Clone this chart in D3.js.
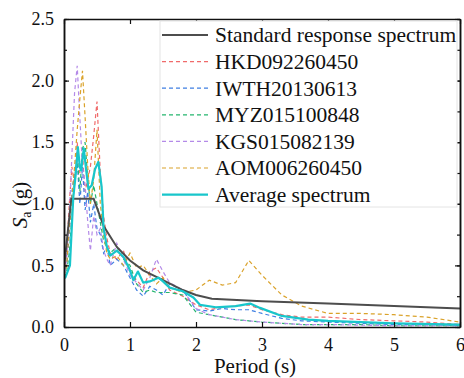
<!DOCTYPE html>
<html>
<head>
<meta charset="utf-8">
<script src="https://cdn.jsdelivr.net/npm/d3@7"></script>
<style>
  body { margin: 0; background: #fff; }
  svg { display: block; }
  svg text { font-family: "Liberation Serif", "Times New Roman", serif; }
</style>
</head>
<body>
<svg id="chart"></svg>
<script>
// periods (s) shared by the five record spectra
const periods = [0, 0.04, 0.08, 0.12, 0.16, 0.2, 0.24, 0.28, 0.32, 0.36, 0.4, 0.45, 0.5, 0.55, 0.6, 0.65, 0.7, 0.8, 0.9, 1.0,
  1.1, 1.2, 1.3, 1.4, 1.5, 1.6, 1.8, 2.0, 2.2, 2.4, 2.6, 2.8, 3.0, 3.3, 3.6, 4.0, 4.5, 5.0, 5.5, 6.0];

const hkd = [0.44, 0.6, 1.0, 1.3, 1.15, 1.5, 1.25, 1.4, 1.1, 1.2, 1.3, 1.55, 1.83, 1.25, 0.9, 0.72, 0.6, 0.55, 0.62, 0.45,
  0.38, 0.32, 0.45, 0.48, 0.4, 0.3, 0.25, 0.18, 0.14, 0.16, 0.17, 0.18, 0.14, 0.1, 0.08, 0.08, 0.06, 0.05, 0.04, 0.02];
const iwth = [0.42, 0.5, 0.75, 1.1, 1.25, 1.35, 1.0, 1.3, 0.95, 1.1, 0.85, 1.0, 0.8, 0.75, 0.6, 0.65, 0.5, 0.55, 0.5, 0.4,
  0.3, 0.25, 0.33, 0.3, 0.26, 0.35, 0.3, 0.14, 0.13, 0.15, 0.14, 0.14, 0.11, 0.07, 0.05, 0.04, 0.03, 0.02, 0.02, 0.01];
const myz = [0.4, 0.45, 0.6, 0.9, 1.2, 1.4, 1.1, 1.45, 1.5, 1.2, 1.0, 1.15, 1.0, 0.85, 0.7, 0.65, 0.6, 0.65, 0.55, 0.5,
  0.35, 0.28, 0.3, 0.28, 0.28, 0.28, 0.26, 0.12, 0.1, 0.08, 0.06, 0.05, 0.04, 0.03, 0.02, 0.02, 0.02, 0.01, 0.01, 0.01];
const kgs = [0.4, 0.55, 0.9, 1.4, 1.9, 2.12, 1.7, 1.3, 1.15, 0.85, 0.62, 0.9, 0.75, 0.8, 0.62, 0.55, 0.5, 0.68, 0.55, 0.42,
  0.36, 0.3, 0.4, 0.55, 0.45, 0.36, 0.3, 0.15, 0.1, 0.08, 0.06, 0.05, 0.04, 0.03, 0.02, 0.02, 0.015, 0.01, 0.01, 0.01];
const aom = [0.42, 0.5, 0.8, 1.05, 1.3, 1.6, 1.85, 2.08, 1.7, 1.3, 1.0, 1.2, 1.6, 1.0, 0.75, 0.6, 0.55, 0.58, 0.5, 0.6,
  0.48, 0.5, 0.42, 0.35, 0.4, 0.32, 0.28, 0.3, 0.38, 0.34, 0.36, 0.54, 0.42, 0.26, 0.17, 0.11, 0.11, 0.1, 0.08, 0.04];

// average spectrum
const avgPeriods = [0, 0.02, 0.09, 0.14, 0.18, 0.21, 0.24, 0.26, 0.3, 0.33, 0.37, 0.42, 0.47, 0.52, 0.57, 0.6, 0.65, 0.7, 0.75, 0.8,
  0.9, 1.0, 1.05, 1.12, 1.2, 1.3, 1.43, 1.5, 1.6, 1.8, 1.96, 2.06, 2.3, 2.6, 2.82, 2.97, 3.3, 3.7, 4.0, 5.0, 6.0];
const avgValues = [0.4, 0.4, 0.5, 1.05, 1.25, 1.46, 1.3, 1.27, 1.45, 1.3, 1.12, 1.15, 1.28, 1.34, 1.14, 0.8, 0.65, 0.58, 0.6, 0.62,
  0.57, 0.46, 0.38, 0.45, 0.36, 0.37, 0.4, 0.37, 0.32, 0.29, 0.24, 0.18, 0.16, 0.17, 0.19, 0.155, 0.09, 0.06, 0.05, 0.03, 0.02];

// standard response spectrum
const stdPeriods = [0, 0.11, 0.45, 0.6, 0.8, 1.0, 1.2, 1.5, 1.8, 2.0, 2.24, 3.0, 4.0, 5.0, 6.0];
const stdValues = [0.48, 1.04, 1.04, 0.82, 0.65, 0.54, 0.46, 0.38, 0.3, 0.26, 0.23, 0.21, 0.19, 0.17, 0.15];

const xTicks = [0, 1, 2, 3, 4, 5, 6];
const yTicks = [0.0, 0.5, 1.0, 1.5, 2.0, 2.5];

const records = [
  { name: "HKD092260450", values: hkd, color: "#f06a6a" },
  { name: "IWTH20130613", values: iwth, color: "#3f7fe2" },
  { name: "MYZ015100848", values: myz, color: "#25b56e" },
  { name: "KGS015082139", values: kgs, color: "#b48ae8" },
  { name: "AOM006260450", values: aom, color: "#daa22a" }
];

const serif = '"Liberation Serif", "Times New Roman", serif';

const config = {
  width: 464, height: 378,
  margin: { top: 19, right: 4, bottom: 51, left: 64 }
};
const w = config.width - config.margin.left - config.margin.right;
const h = config.height - config.margin.top - config.margin.bottom;

const svg = d3.select("#chart")
  .attr("width", config.width)
  .attr("height", config.height);

const chart = svg.append("g")
  .attr("transform", `translate(${config.margin.left},${config.margin.top})`);

const x = d3.scaleLinear().domain([0, 6]).range([0, w]);
const y = d3.scaleLinear().domain([0, 2.5]).range([h, 0]);

const line = d3.line().x(d => x(d[0])).y(d => y(d[1]));

chart.append("defs").append("clipPath").attr("id", "clip")
  .append("rect").attr("width", w).attr("height", h);

const plot = chart.append("g").attr("clip-path", "url(#clip)");

// dashed record spectra
records.forEach(r => {
  plot.append("path")
    .datum(periods.map((p, i) => [p, r.values[i]]))
    .attr("d", line)
    .attr("fill", "none")
    .attr("stroke", r.color)
    .attr("stroke-width", 1.2)
    .attr("stroke-dasharray", "4,3");
});

plot.append("path")
  .datum(stdPeriods.map((p, i) => [p, stdValues[i]]))
  .attr("d", line)
  .attr("fill", "none")
  .attr("stroke", "#4d4d4d")
  .attr("stroke-width", 2);

plot.append("path")
  .datum(avgPeriods.map((p, i) => [p, avgValues[i]]))
  .attr("d", line)
  .attr("fill", "none")
  .attr("stroke", "#18c6cb")
  .attr("stroke-width", 2.2)
  .attr("stroke-linejoin", "round");

// axes, ticks pointing inward
const minorY = d3.range(0, 2.51, 0.25);

chart.append("g")
  .attr("class", "axis")
  .attr("transform", `translate(0,${h})`)
  .call(d3.axisBottom(x).tickValues(xTicks).tickFormat(d3.format("d")).tickSizeInner(-5).tickSizeOuter(0).tickPadding(11));

chart.append("g")
  .attr("class", "axis")
  .call(d3.axisLeft(y).tickValues(yTicks).tickFormat(d3.format(".1f")).tickSizeInner(-5).tickSizeOuter(0).tickPadding(10));

chart.append("g")
  .attr("class", "axis minor")
  .call(d3.axisLeft(y).tickValues(minorY).tickFormat("").tickSizeInner(-3).tickSizeOuter(0));

chart.append("g")
  .attr("class", "axis")
  .call(d3.axisTop(x).tickValues(xTicks).tickFormat("").tickSizeInner(-5).tickSizeOuter(0));

chart.append("g")
  .attr("class", "axis")
  .attr("transform", `translate(${w},0)`)
  .call(d3.axisRight(y).tickValues(yTicks).tickFormat("").tickSizeInner(-5).tickSizeOuter(0));

chart.append("g")
  .attr("class", "axis minor")
  .attr("transform", `translate(${w},0)`)
  .call(d3.axisRight(y).tickValues(minorY).tickFormat("").tickSizeInner(-3).tickSizeOuter(0));

chart.selectAll(".axis").attr("font-family", serif).attr("font-size", 18);
chart.selectAll(".axis path.domain").attr("stroke", "#111").attr("stroke-width", 1.5);
chart.selectAll(".axis .tick line").attr("stroke", "#111").attr("stroke-width", 1.2);
chart.selectAll(".axis text").attr("fill", "#111");

// axis titles
svg.append("text")
  .attr("x", 255)
  .attr("y", 373)
  .attr("text-anchor", "middle")
  .attr("font-family", serif)
  .attr("font-size", 21)
  .attr("fill", "#111")
  .text("Period (s)");

const yTitle = svg.append("text")
  .attr("transform", "translate(27,205) rotate(-90)")
  .attr("text-anchor", "middle")
  .attr("font-family", serif)
  .attr("font-size", 21)
  .attr("fill", "#111");
yTitle.append("tspan").style("font-style", "italic").text("S");
yTitle.append("tspan").attr("dy", 4).attr("font-size", 14).text("a");
yTitle.append("tspan").attr("dy", -4).text(" (g)");

// legend
const legendItems = [
  { name: "Standard response spectrum", color: "#4d4d4d", dash: null, width: 2 }
].concat(records.map(r => ({ name: r.name, color: r.color, dash: "4,3", width: 1.2 })))
 .concat([{ name: "Average spectrum", color: "#18c6cb", dash: null, width: 2.2 }]);

const legend = svg.append("g").attr("transform", "translate(160,21)");
legend.append("rect")
  .attr("width", 297)
  .attr("height", 186)
  .attr("fill", "#fff")
  .attr("stroke", "#e4e4e4")
  .attr("stroke-width", 1);

const rows = legend.selectAll("g.row")
  .data(legendItems)
  .join("g")
  .attr("class", "row")
  .attr("transform", (d, i) => `translate(0,${14 + i * 26.6})`);

rows.append("line")
  .attr("x1", 2).attr("x2", 48)
  .attr("stroke", d => d.color)
  .attr("stroke-width", d => d.width)
  .attr("stroke-dasharray", d => d.dash);

rows.append("text")
  .attr("x", 55)
  .attr("dy", "0.34em")
  .attr("font-family", serif)
  .attr("font-size", 21.5)
  .attr("fill", "#111")
  .text(d => d.name);
</script>
</body>
</html>
